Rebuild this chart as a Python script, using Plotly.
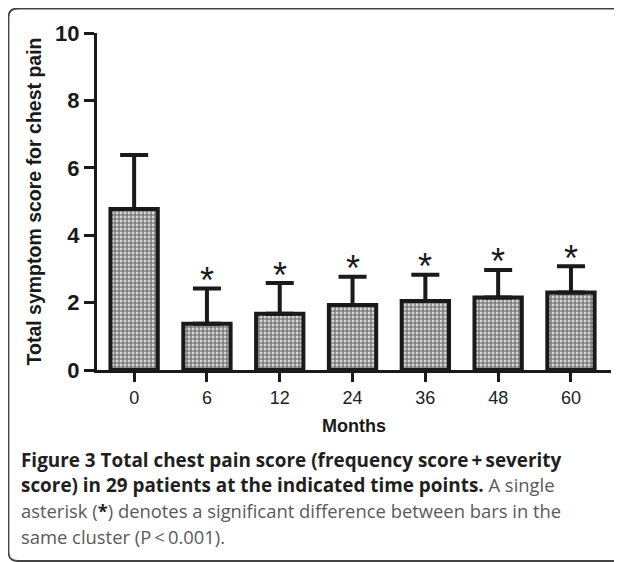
import plotly.graph_objects as go

months = ["0", "6", "12", "24", "36", "48", "60"]
mean_score = [4.78, 1.37, 1.67, 1.93, 2.05, 2.15, 2.30]
sem_upper = [1.60, 1.05, 0.91, 0.84, 0.78, 0.82, 0.78]
signif = ["", "*", "*", "*", "*", "*", "*"]
y_ticks = [0, 2, 4, 6, 8, 10]

OFF = 8  # page body margin
W, H = 622 - OFF, 562 - OFF
L, R, T, B = 97 - OFF, 19 - OFF, 33 - OFF, 192
PW, PH = W - L - R, H - T - B

def px(x):
    return (x - OFF - L) / PW

def py(y):
    return (H - B - (y - OFF)) / PH

ink = "#1a1a1a"

fig = go.Figure()
fig.add_trace(go.Bar(
    x=months, y=mean_score, width=0.65,
    marker=dict(color="white", line=dict(color=ink, width=4),
                pattern=dict(shape=".", fgcolor="#000000", bgcolor="white",
                             size=4, solidity=0.75)),
    error_y=dict(type="data", array=sem_upper, arrayminus=[0]*len(sem_upper),
                 symmetric=False, thickness=4, width=14, color=ink),
    showlegend=False, hoverinfo="skip",
))

for i, (v, e, s) in enumerate(zip(mean_score, sem_upper, signif)):
    if s:
        fig.add_annotation(x=i, y=v + e, text=s, showarrow=False, xref="x", yref="y",
                           yanchor="middle", yshift=8,
                           font=dict(family="Liberation Sans, Arial", size=36, color=ink))

fig.update_layout(
    width=W, height=H, margin=dict(l=L, r=R, t=T, b=B, pad=0),
    paper_bgcolor="white", plot_bgcolor="white",
    font=dict(family="Liberation Sans, Arial", color=ink),
    xaxis=dict(type="category", range=[-0.51, 6.55], showline=True, linewidth=3,
               linecolor=ink, ticks="outside", ticklen=9, tickwidth=3, tickcolor=ink,
               tickfont=dict(size=18, color="#222222"), ticklabelstandoff=0,
               showgrid=False, zeroline=False, automargin=False,
               title=dict(text="<b>Months</b>", font=dict(size=18, color=ink), standoff=13)),
    yaxis=dict(range=[0, 10], tickvals=y_ticks, showline=True, linewidth=3, linecolor=ink,
               ticks="outside", ticklen=10, tickwidth=3, tickcolor=ink,
               tickfont=dict(size=22, color=ink, weight="bold"),
               showgrid=False, zeroline=False, automargin=False,
               title=dict(text="<b>Total symptom score for chest pain</b>",
                          font=dict(size=19.5, color=ink), standoff=9)),
)

# caption
cap_font = "Open Sans, Noto Sans, sans-serif"
dark = "#231f20"
grey = "#58595b"
bsz = "font-size:18.9px"
lines = [
    "<span style='%s'><b>Figure 3 Total chest pain score (frequency score\u2009+\u2009severity</b></span>" % bsz,
    "<span style='%s'><b>score) in 29 patients at the indicated time points.</b></span> <span style='color:%s'>A single</span>" % (bsz, grey),
    "<span style='color:%s'>asterisk (<b style='color:%s'>*</b>) denotes a significant difference between bars in the</span>" % (grey, dark),
    "<span style='color:%s'>same cluster (P\u2009&lt;\u20090.001).</span>" % grey,
]
line_y = [460, 485, 511, 536]
for t, yy in zip(lines, line_y):
    fig.add_annotation(text=t, xref="paper", yref="paper", x=px(19), y=py(yy),
                       xanchor="left", yanchor="middle", showarrow=False,
                       font=dict(family=cap_font, size=18.4, color=dark))

# rounded frame
r = 9
x0, x1, y0, y1 = 8.5, 640, 8.5, 561
path = (f"M {px(x1)},{py(y0)} L {px(x0 + r)},{py(y0)} "
        f"Q {px(x0)},{py(y0)} {px(x0)},{py(y0 + r)} "
        f"L {px(x0)},{py(y1 - r)} Q {px(x0)},{py(y1)} {px(x0 + r)},{py(y1)} "
        f"L {px(x1)},{py(y1)}")
fig.add_shape(type="path", path=path, xref="paper", yref="paper",
              line=dict(color="#444444", width=1.8), layer="below")

fig.write_html("out.html")
